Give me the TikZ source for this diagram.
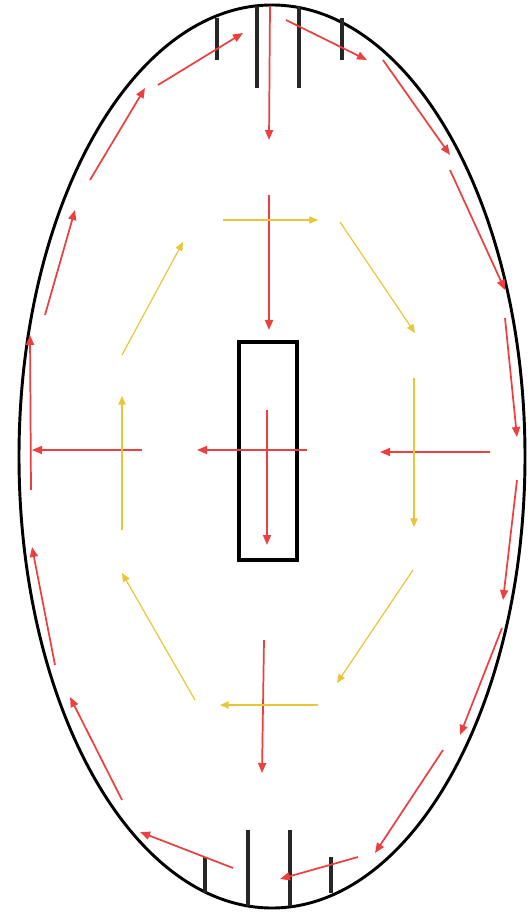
\documentclass[tikz,border=0pt]{standalone}
\usetikzlibrary{arrows.meta}
\definecolor{flowred}{RGB}{236,64,64}
\definecolor{flowyel}{RGB}{232,198,56}
\begin{document}
\begin{tikzpicture}[x=0.75pt,y=0.75pt,yscale=-1,xscale=1,
    redflow/.style={draw=flowred,line width=1.3pt,-{Triangle[length=7.5pt,width=6pt]}},
    yelflow/.style={draw=flowyel,line width=0.9pt,-{Triangle[length=6.5pt,width=5.5pt]}},
    tick/.style={draw=black!85,line width=2.3pt}]
            \useasboundingbox (0,0) rectangle (529,912);
            % housing
            \draw [line width=2.2pt]  (272,456.5) ellipse [x radius=253, y radius=451.5];
            \draw [line width=2.4pt]  (239,342) rectangle (297,560);
            % ports top
            \draw [tick]  (217,18) -- (217,60) (257,6) -- (257,88) (299,6) -- (299,88) (342,18) -- (342,60);
            % ports bottom
            \draw [tick]  (205,893) -- (205,857) (248,906) -- (248,830) (290,906) -- (290,830) (331,893) -- (331,857);
            % outer loop
            \draw [redflow]  (158,85) -- (243,33);
            \draw [redflow]  (90,180) -- (145,88);
            \draw [redflow]  (45,315) -- (75,210);
            \draw [redflow]  (31,490) -- (30,335);
            \draw [redflow]  (55,665) -- (32,547);
            \draw [redflow]  (122,800) -- (70,697);
            \draw [redflow]  (233,868) -- (140,832);
            \draw [redflow]  (358,857) -- (280,879);
            \draw [redflow]  (443,750) -- (375,853);
            \draw [redflow]  (502,628) -- (460,735);
            \draw [redflow]  (517,480) -- (503,600);
            \draw [redflow]  (505,318) -- (517,437);
            \draw [redflow]  (450,170) -- (505,290);
            \draw [redflow]  (383,60) -- (450,155);
            \draw [redflow]  (286,20) -- (367,60);
            % inner red
            \draw [redflow]  (270,6) -- (269,140);
            \draw [redflow]  (269,195) -- (269,330);
            \draw [redflow]  (267,410) -- (267,545);
            \draw [redflow]  (307,450) -- (197,450);
            \draw [redflow]  (142,450) -- (32,450);
            \draw [redflow]  (490,452) -- (380,452);
            \draw [redflow]  (264,640) -- (262,773);
            % inner loop
            \draw [yelflow]  (223,220) -- (318,220);
            \draw [yelflow]  (340,222) -- (415,333);
            \draw [yelflow]  (414,378) -- (414,527);
            \draw [yelflow]  (413,570) -- (337,683);
            \draw [yelflow]  (318,705) -- (220,705);
            \draw [yelflow]  (195,700) -- (122,573);
            \draw [yelflow]  (122,530) -- (122,396);
            \draw [yelflow]  (122,355) -- (183,242);
\end{tikzpicture}
\end{document}
